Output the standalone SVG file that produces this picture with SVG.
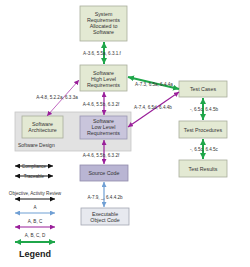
<svg xmlns="http://www.w3.org/2000/svg" width="250" height="267" viewBox="0 0 250 267">
<defs>
<marker id="mg" viewBox="0 0 10 10" refX="10" refY="5" markerWidth="6" markerHeight="6" markerUnits="userSpaceOnUse" orient="auto-start-reverse"><path d="M0,0 L10,5 L0,10 z" fill="#1fa64a"/></marker>
<marker id="mp" viewBox="0 0 10 10" refX="10" refY="5" markerWidth="5" markerHeight="5" markerUnits="userSpaceOnUse" orient="auto-start-reverse"><path d="M0,0 L10,5 L0,10 z" fill="#9a1f9a"/></marker>
<marker id="mb" viewBox="0 0 10 10" refX="10" refY="5" markerWidth="5" markerHeight="5" markerUnits="userSpaceOnUse" orient="auto-start-reverse"><path d="M0,0 L10,5 L0,10 z" fill="#6f9fd4"/></marker>
<marker id="mk" viewBox="0 0 10 10" refX="10" refY="5" markerWidth="5" markerHeight="5" markerUnits="userSpaceOnUse" orient="auto-start-reverse"><path d="M0,0 L10,5 L0,10 z" fill="#111"/></marker>
</defs>
<style>
text{font-family:"Liberation Sans",Arial,sans-serif;fill:#333;}
.t{font-size:5.3px;text-anchor:middle;}
.l{font-size:4.6px;text-anchor:middle;}
.gb{fill:#e3e9d3;stroke:#a9ad9c;stroke-width:0.8;}
.pb{fill:#c9c5dc;stroke:#9a96b2;stroke-width:0.8;}
.sb{fill:#b9b5d3;stroke:#8f8bab;stroke-width:0.8;}
.eb{fill:#e7e9ef;stroke:#a3a6b2;stroke-width:0.8;}
.g{stroke:#1fa64a;stroke-width:2;fill:none;marker-start:url(#mg);marker-end:url(#mg);}
.p{stroke:#9a1f9a;stroke-width:1.2;fill:none;marker-start:url(#mp);marker-end:url(#mp);}
.b{stroke:#6f9fd4;stroke-width:1.2;fill:none;marker-start:url(#mb);marker-end:url(#mb);}
.k{stroke:#111;stroke-width:1;fill:none;marker-start:url(#mk);marker-end:url(#mk);}
</style>
<rect width="250" height="267" fill="#fff"/>

<g id="software-design">
<rect x="15" y="112" width="116" height="39" fill="#e2e2e2" stroke="#c6c6c6" stroke-width="0.8"/>
<text x="18" y="147" style="font-size:5px">Software Design</text>
</g>

<g id="sys-req">
<rect class="gb" x="80" y="6" width="47" height="35"/>
<text class="t" x="103.5" y="16">System</text>
<text class="t" x="103.5" y="22">Requirements</text>
<text class="t" x="103.5" y="28">Allocated to</text>
<text class="t" x="103.5" y="34">Software</text>
</g>

<g id="hlr">
<rect class="gb" x="80" y="65" width="47" height="26"/>
<text class="t" x="103.5" y="74.5">Software</text>
<text class="t" x="103.5" y="80.5">High Level</text>
<text class="t" x="103.5" y="86.5">Requirements</text>
</g>

<g id="arch">
<rect class="gb" x="22" y="116" width="41" height="22"/>
<text class="t" x="42.5" y="126">Software</text>
<text class="t" x="42.5" y="132">Architecture</text>
</g>

<g id="llr">
<rect class="pb" x="80" y="116" width="47" height="23"/>
<text class="t" x="103.5" y="123">Software</text>
<text class="t" x="103.5" y="129">Low Level</text>
<text class="t" x="103.5" y="135">Requirements</text>
</g>

<g id="source">
<rect class="sb" x="80" y="165" width="48" height="16"/>
<text class="t" x="104" y="175">Source Code</text>
</g>

<g id="exec">
<rect class="eb" x="81" y="208" width="48" height="17"/>
<text class="t" x="105" y="215.5">Executable</text>
<text class="t" x="105" y="221.5">Object Code</text>
</g>

<g id="test-cases">
<rect class="gb" x="179" y="81" width="48" height="16"/>
<text class="t" x="203" y="91">Test Cases</text>
</g>

<g id="test-procedures">
<rect class="gb" x="179" y="121" width="48" height="17"/>
<text class="t" x="203" y="131.5">Test Procedures</text>
</g>

<g id="test-results">
<rect class="gb" x="179" y="160" width="48" height="17"/>
<text class="t" x="203" y="170.5">Test Results</text>
</g>

<g id="connectors">
<line class="g" x1="104" y1="42" x2="104" y2="64"/>
<text class="l" x="102" y="54.5">A-3.6, 5.5a, 6.3.1.f</text>
<line class="g" x1="128" y1="77" x2="179" y2="89"/>
<text class="l" x="154" y="86">A-7.3, 6.5a, 6.4.4a</text>
<line class="p" x1="104" y1="92" x2="104" y2="115"/>
<text class="l" x="101" y="106">A-4.6, 5.5b, 6.3.2f</text>
<line class="p" x1="79" y1="80" x2="47" y2="116" style="stroke-width:0.8;stroke:#b040b0"/>
<text class="l" x="57" y="99">A-4.8, 5.2.2a, 6.3.3a</text>
<line class="p" x1="128" y1="127" x2="179" y2="92"/>
<text class="l" x="153" y="109">A-7.4, 6.5d, 6.4.4b</text>
<line class="p" x1="104" y1="140" x2="104" y2="164"/>
<text class="l" x="101" y="157">A-4.6, 5.5b, 6.3.2f</text>
<line class="b" x1="104" y1="182" x2="104" y2="207"/>
<text class="l" x="105" y="198.5">A-7.9, _, 6.4.4.2b</text>
<line class="g" x1="203" y1="98" x2="203" y2="120"/>
<text class="l" x="204" y="110.5">-, 6.5c, 6.4.5b</text>
<line class="g" x1="203" y1="139" x2="203" y2="159"/>
<text class="l" x="204" y="151">-, 6.5c, 6.4.5c</text>
</g>

<g id="legend">
<line class="k" x1="15" y1="166" x2="53" y2="166"/>
<text class="l" x="34" y="168">Compliance</text>
<line class="k" x1="15" y1="176" x2="53" y2="176"/>
<text class="l" x="34" y="178">Traceable</text>
<text class="l" x="35" y="194.5">Objective, Activity Review</text>
<line class="k" x1="15" y1="199" x2="55" y2="199"/>
<text class="l" x="35" y="208.5">A</text>
<line class="b" x1="15" y1="213" x2="55" y2="213"/>
<text class="l" x="35" y="222.5">A, B, C</text>
<line class="p" x1="15" y1="227" x2="55" y2="227"/>
<text class="l" x="35" y="237">A, B, C, D</text>
<line class="g" x1="15" y1="242" x2="55" y2="242"/>
<text x="35" y="257" style="font-size:9px;font-weight:bold;text-anchor:middle;fill:#222">Legend</text>
</g>
</svg>
